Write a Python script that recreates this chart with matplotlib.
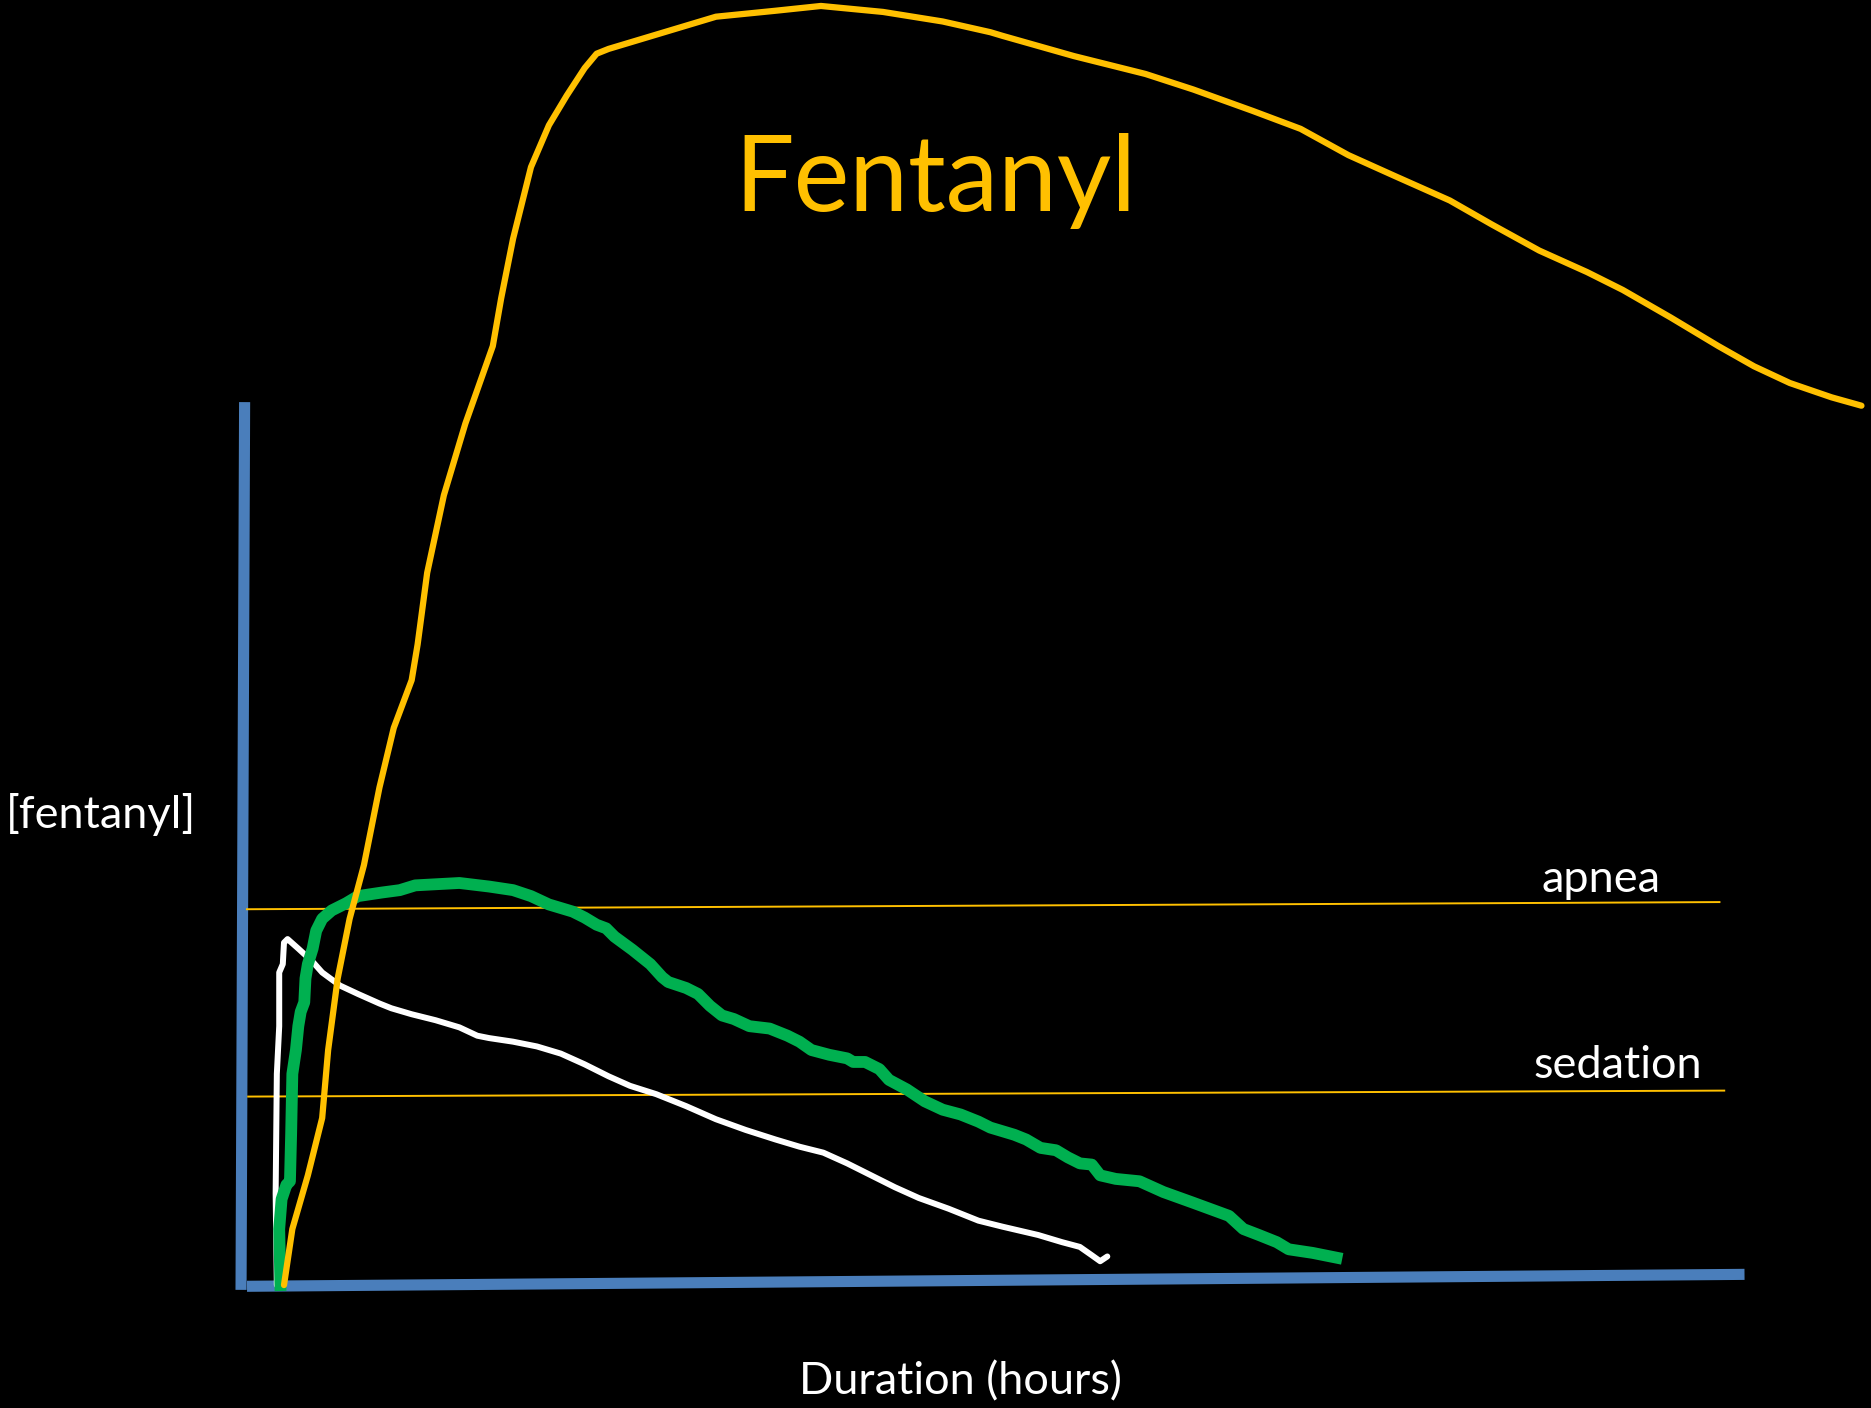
import numpy as np
import matplotlib.pyplot as plt

# <------------------------------ Datos ------------------------------------->
# tiempo en horas, concentracion en unidades arbitrarias
fent_t = [0.33, 0.40, 0.53, 0.65, 0.70, 0.78, 0.88, 1.00, 1.05, 1.13, 1.25, 1.40,
          1.45, 1.53, 1.67, 1.85, 2.08, 2.15, 2.25, 2.40, 2.55, 2.70, 2.85, 2.95,
          3.05, 3.45, 3.95, 4.45, 4.83, 5.35, 5.85, 6.25, 6.35, 6.95, 7.55, 7.95,
          8.45, 8.85, 9.25, 9.65, 10.10, 10.45, 10.85, 11.25, 11.55, 11.95, 12.35,
          12.65, 12.95, 13.30, 13.55]
fent_c = [0.00, 0.47, 0.92, 1.40, 1.97, 2.57, 3.07, 3.52, 3.77, 4.17, 4.67, 5.07,
          5.37, 5.97, 6.62, 7.22, 7.87, 8.27, 8.77, 9.37, 9.72, 9.97, 10.20, 10.32,
          10.36, 10.48, 10.63, 10.68, 10.72, 10.67, 10.59, 10.50, 10.47, 10.30, 10.15,
          10.02, 9.84, 9.69, 9.47, 9.29, 9.09, 8.89, 8.67, 8.49, 8.34, 8.11, 7.87,
          7.70, 7.56, 7.44, 7.37]

blanco_t = [0.27, 0.26, 0.27, 0.29, 0.29, 0.32, 0.33, 0.36, 0.45, 0.57, 0.65, 0.80,
            0.95, 1.13, 1.23, 1.40, 1.60, 1.80, 1.95, 2.05, 2.25, 2.45, 2.65, 2.85,
            3.05, 3.23, 3.45, 3.70, 3.95, 4.20, 4.45, 4.65, 4.85, 5.05, 5.25, 5.45,
            5.65, 5.90, 6.15, 6.35, 6.65, 6.85, 7.00, 7.10, 7.17, 7.23]
blanco_c = [0.00, 0.77, 1.77, 2.17, 2.62, 2.69, 2.87, 2.90, 2.82, 2.71, 2.62, 2.51,
            2.44, 2.36, 2.32, 2.27, 2.22, 2.16, 2.09, 2.07, 2.04, 2.00, 1.94, 1.85,
            1.75, 1.67, 1.60, 1.50, 1.39, 1.30, 1.22, 1.16, 1.11, 1.02, 0.92, 0.82,
            0.73, 0.64, 0.54, 0.49, 0.42, 0.36, 0.32, 0.25, 0.20, 0.24]

verde_t = [0.30, 0.29, 0.31, 0.35, 0.38, 0.39, 0.40, 0.43, 0.45, 0.47, 0.50, 0.51,
           0.53, 0.57, 0.60, 0.65, 0.73, 0.85, 0.95, 1.15, 1.30, 1.43, 1.80, 2.05,
           2.25, 2.40, 2.55, 2.75, 2.85, 2.95, 3.03, 3.10, 3.25, 3.40, 3.50, 3.55,
           3.70, 3.80, 3.90, 4.00, 4.10, 4.23, 4.40, 4.55, 4.65, 4.75, 4.90, 5.05,
           5.10, 5.20, 5.32, 5.40, 5.55, 5.70, 5.85, 6.00, 6.15, 6.25, 6.45, 6.55,
           6.67, 6.80, 6.90, 7.00, 7.10, 7.17, 7.30, 7.50, 7.70, 7.95, 8.25, 8.37,
           8.50, 8.65, 8.75, 8.95, 9.15]
verde_c = [0.00, 0.47, 0.72, 0.84, 0.87, 1.27, 1.77, 1.97, 2.17, 2.29, 2.37, 2.57,
           2.69, 2.82, 2.97, 3.07, 3.14, 3.20, 3.26, 3.29, 3.31, 3.35, 3.37, 3.34,
           3.31, 3.26, 3.19, 3.13, 3.08, 3.02, 2.99, 2.92, 2.81, 2.69, 2.58, 2.54,
           2.49, 2.44, 2.34, 2.26, 2.23, 2.17, 2.15, 2.09, 2.04, 1.97, 1.93, 1.90,
           1.87, 1.87, 1.81, 1.72, 1.64, 1.54, 1.47, 1.43, 1.37, 1.32, 1.26, 1.22,
           1.15, 1.13, 1.07, 1.02, 1.01, 0.92, 0.89, 0.87, 0.78, 0.69, 0.58, 0.47,
           0.42, 0.36, 0.30, 0.27, 0.23]

# umbrales (inicio, fin) algo inclinados como en el dibujo
apnea_t, apnea_c = [0.02, 12.36], [3.15, 3.21]
sedacion_t, sedacion_c = [0.03, 12.40], [1.58, 1.63]

# ejes dibujados a mano
eje_y_t, eje_y_c = [0.00, -0.03], [7.40, -0.04]
eje_x_t, eje_x_c = [0.02, 12.57], [-0.01, 0.09]

# <------------------------------ Grafica ----------------------------------->
amarillo = '#FFC000'
azul = '#4A7EBB'
plt.rcParams['font.family'] = ['Lato', 'DejaVu Sans']

fig = plt.figure(figsize=(18.71, 14.08), dpi=100, facecolor='black')
ax = fig.add_axes([0, 0, 1, 1])
ax.set_facecolor('black')
ax.set_xlim(-2.05, 13.63)
ax.set_ylim(-1.03, 10.77)
ax.axis('off')

ax.plot(eje_y_t, eje_y_c, color=azul, lw=8, solid_capstyle='butt', zorder=1)
ax.plot(eje_x_t, eje_x_c, color=azul, lw=8, solid_capstyle='butt', zorder=1)

ax.plot(apnea_t, apnea_c, color=amarillo, lw=1.4, zorder=2)
ax.plot(sedacion_t, sedacion_c, color=amarillo, lw=1.4, zorder=2)

ax.plot(blanco_t, blanco_c, color='white', lw=4.3, solid_joinstyle='round',
        solid_capstyle='round', zorder=3)
ax.plot(verde_t, verde_c, color='#00B050', lw=8.5, solid_joinstyle='round', zorder=4)
ax.plot(fent_t, fent_c, color=amarillo, lw=4.5, solid_joinstyle='round',
        solid_capstyle='round', zorder=5)

ax.text(5.79, 9.25, 'Fentanyl', color=amarillo, fontsize=76, ha='center', va='center')
ax.text(11.37, 3.40, 'apnea', color='white', fontsize=32.5, ha='center', va='center')
ax.text(11.51, 1.84, 'sedation', color='white', fontsize=32.5, ha='center', va='center')
ax.text(-1.20, 3.94, '[fentanyl]', color='white', fontsize=32.5, ha='center', va='center')
ax.text(6.00, -0.81, 'Duration (hours)', color='white', fontsize=32.5, ha='center', va='center')

fig.savefig('out.png', dpi=100, facecolor='black')
